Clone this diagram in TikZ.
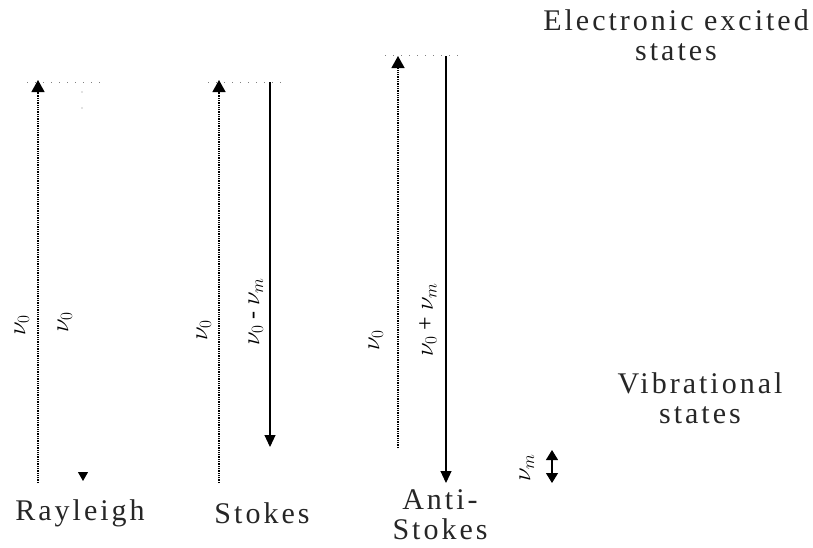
\documentclass[tikz,border=0pt]{standalone}
\usepackage{fontspec}
\setmainfont{Liberation Serif}
\usetikzlibrary{arrows.meta}
\begin{document}
\begin{tikzpicture}[x=1pt,y=-1pt,
 lbl/.style={font=\fontsize{30}{30}\selectfont\addfontfeature{LetterSpace=10}, align=center, inner sep=0, text=black!85},
 nu/.style={rotate=90, font=\fontsize{24}{26}\selectfont, inner sep=0},
 up/.style={densely dotted, line width=1.3pt, -{Triangle[width=13pt,length=12pt]}},
 down/.style={line width=1.1pt, -{Triangle[width=11pt,length=12pt]}},
 ghost/.style={draw=white, line width=1pt, -{Triangle[width=10pt,length=9pt,black]}},
 both/.style={line width=1.1pt, {Triangle[width=12pt,length=10pt]}-{Triangle[width=12pt,length=10pt]}},
 level/.style={gray, line width=1pt, dash pattern=on 1pt off 7pt}]
\useasboundingbox (0,0) rectangle (813,547);
% Rayleigh
\coordinate (r1) at (38,483); \coordinate (r2) at (38,80);
\coordinate (r3) at (83,84); \coordinate (r4) at (83,481);
\coordinate (rl1) at (27,82); \coordinate (rl2) at (105,82);
\draw[level] (rl1) -- (rl2);
\draw[up] (r1) -- (r2);
\draw[ghost] (r3) -- (r4);
\fill[gray] (82,92) circle (0.7) (82,108) circle (0.7);
% Stokes
\coordinate (s1) at (219,483); \coordinate (s2) at (219,80);
\coordinate (s3) at (270,82); \coordinate (s4) at (270,447);
\coordinate (sl1) at (208,82); \coordinate (sl2) at (287,82);
\draw[level] (sl1) -- (sl2);
\draw[up] (s1) -- (s2);
\draw[down] (s3) -- (s4);
% Anti-Stokes
\coordinate (a1) at (398,448); \coordinate (a2) at (398,56);
\coordinate (a3) at (446,56); \coordinate (a4) at (446,483);
\coordinate (al1) at (385,55); \coordinate (al2) at (462,55);
\draw[level] (al1) -- (al2);
\draw[up] (a1) -- (a2);
\draw[down] (a3) -- (a4);
% vibrational spacing
\coordinate (m1) at (552,450); \coordinate (m2) at (552,483);
\draw[both] (m1) -- (m2);
% frequency labels
\node[nu] (n1) at (22,325) {$\nu_0$};
\node[nu] (n2) at (65,322) {$\nu_0$};
\node[nu] (n3) at (204,330) {$\nu_0$};
\node[nu] (n4) at (256,312) {$\nu_0$ - $\nu_m$};
\node[nu] (n5) at (376,340) {$\nu_0$};
\node[nu] (n6) at (428,320) {$\nu_0$ + $\nu_m$};
\node[nu] (n7) at (527,468) {$\nu_m$};
% text labels
\node[lbl] (t1) at (80,513) {Rayleigh};
\node[lbl] (t2) at (262,513) {Stokes};
\node[lbl] (t3) at (440,515) {Anti-\\Stokes};
\node[lbl] (t4) at (676,35) {Electronic excited\\states};
\node[lbl] (t6) at (700,398) {Vibrational\\states};
\end{tikzpicture}
\end{document}
